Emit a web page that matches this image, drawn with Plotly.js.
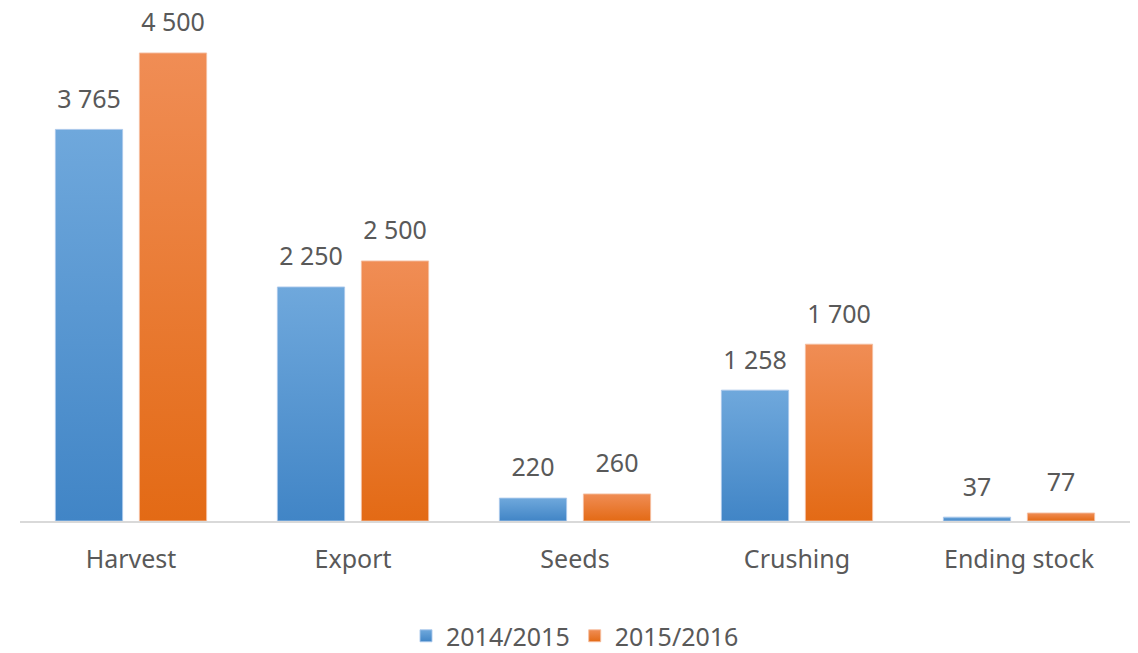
<!DOCTYPE html>
<html>
<head>
<meta charset="utf-8">
<script src="https://cdn.plot.ly/plotly-3.0.1.min.js"></script>
<style>
html,body{margin:0;padding:0;background:#fff;}
#chart{width:1138px;height:653px;}
</style>
</head>
<body>
<div id="chart"></div>
<script>
const categories = ["Harvest", "Export", "Seeds", "Crushing", "Ending stock"];
const series1Name = "2014/2015";
const series2Name = "2015/2016";
const series1 = [3765, 2250, 220, 1258, 37];
const series2 = [4500, 2500, 260, 1700, 77];

const fontFam = "Noto Sans, Open Sans, sans-serif";
const textCol = "#595959";
const GAP = 0.243;

function barTrace(name, vals, color, lineColor) {
  return {
    type: "bar", name: name, x: categories, y: vals,
    marker: {color: color, line: {color: lineColor, width: 1}},
    hoverinfo: "x+y"
  };
}
function labelTrace(name, vals) {
  return {
    type: "scatter", mode: "markers+text", name: name, x: categories, y: vals,
    texttemplate: "%{y:,}", textposition: "top center",
    textfont: {family: fontFam, size: 25, color: textCol},
    marker: {size: 23, color: "rgba(0,0,0,0)"},
    showlegend: false, cliponaxis: false, hoverinfo: "skip"
  };
}

const traces = [
  barTrace(series1Name, series1, "#5b9bd5", "rgba(170,200,235,0.9)"),
  barTrace(series2Name, series2, "#ed7d31", "rgba(245,190,160,0.9)"),
  labelTrace(series1Name, series1),
  labelTrace(series2Name, series2)
];

const layout = {
  width: 1138, height: 653,
  margin: {l: 20, r: 8, t: 20, b: 132},
  paper_bgcolor: "#ffffff", plot_bgcolor: "#ffffff",
  separators: ". ",
  barmode: "group",
  bargap: GAP,
  bargroupgap: 0.2,
  scattermode: "group",
  scattergap: GAP,
  font: {family: fontFam, color: textCol, size: 25},
  xaxis: {
    showline: true, linecolor: "#d9d9d9", linewidth: 1.5,
    showgrid: false, zeroline: false, ticks: "",
    ticklabelstandoff: 15,
    tickfont: {family: fontFam, size: 25, color: textCol}
  },
  yaxis: {
    range: [0, 4817], visible: false, showgrid: false, zeroline: false
  },
  showlegend: true,
  legend: {
    orientation: "h", x: 0.5, xanchor: "center",
    yref: "container", y: 0.026, yanchor: "middle",
    font: {family: fontFam, size: 25, color: textCol},
    itemwidth: 30, traceorder: "normal"
  }
};

function applyGradients(gd) {
  const svg = gd.querySelector("svg.main-svg");
  if (!svg) return;
  let defs = svg.querySelector("defs");
  if (!defs) { defs = document.createElementNS("http://www.w3.org/2000/svg", "defs"); svg.insertBefore(defs, svg.firstChild); }
  const grads = [
    {id: "gradBlue", top: "#6fa8dc", bot: "#4185c6"},
    {id: "gradOrange", top: "#f08d55", bot: "#e36a15"}
  ];
  grads.forEach(g => {
    if (defs.querySelector("#" + g.id)) return;
    const lg = document.createElementNS("http://www.w3.org/2000/svg", "linearGradient");
    lg.setAttribute("id", g.id);
    lg.setAttribute("x1", "0"); lg.setAttribute("y1", "0");
    lg.setAttribute("x2", "0"); lg.setAttribute("y2", "1");
    const s1 = document.createElementNS("http://www.w3.org/2000/svg", "stop");
    s1.setAttribute("offset", "0"); s1.setAttribute("stop-color", g.top);
    const s2 = document.createElementNS("http://www.w3.org/2000/svg", "stop");
    s2.setAttribute("offset", "1"); s2.setAttribute("stop-color", g.bot);
    lg.appendChild(s1); lg.appendChild(s2); defs.appendChild(lg);
  });
  const traceGroups = gd.querySelectorAll(".barlayer .trace");
  traceGroups.forEach((tg, i) => {
    const id = i === 0 ? "gradBlue" : "gradOrange";
    tg.querySelectorAll("path").forEach(p => { p.style.fill = "url(#" + id + ")"; });
  });
  const legendItems = gd.querySelectorAll(".legend .traces");
  legendItems.forEach((li, i) => {
    const id = i === 0 ? "gradBlue" : "gradOrange";
    li.querySelectorAll(".legendpoints path").forEach(p => { p.style.fill = "url(#" + id + ")"; });
  });
}

const gd = document.getElementById("chart");
Plotly.newPlot(gd, traces, layout, {displayModeBar: false, staticPlot: true}).then(() => {
  applyGradients(gd);
  gd.on && gd.on("plotly_afterplot", () => applyGradients(gd));
});
</script>
</body>
</html>
